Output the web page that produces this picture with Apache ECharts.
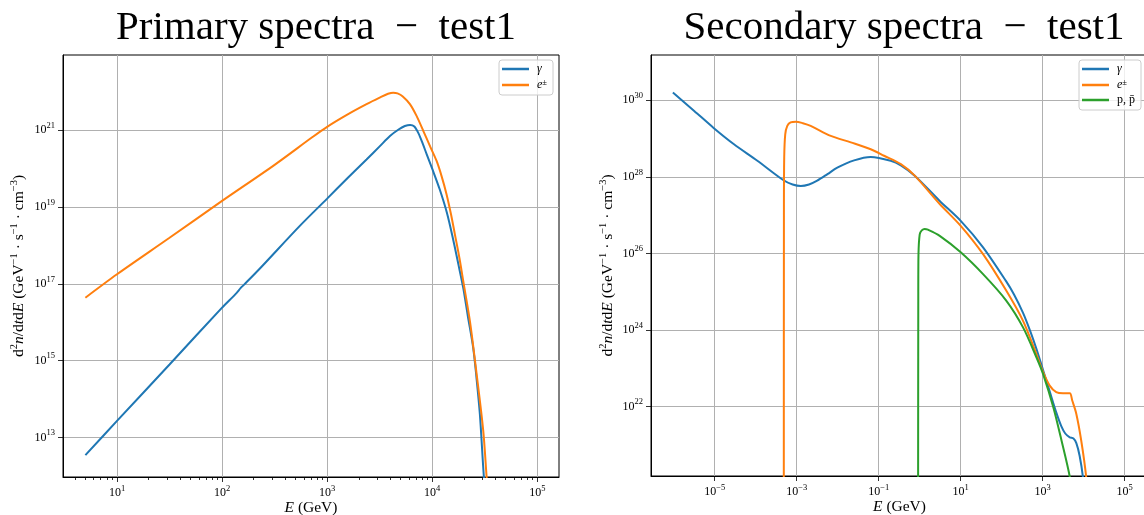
<!DOCTYPE html>
<html>
<head>
<meta charset="utf-8">
<script src="https://cdn.jsdelivr.net/npm/echarts@6/dist/echarts.min.js"></script>
<style>
html, body { margin: 0; padding: 0; background: #fff; }
#main { width: 1144px; height: 515px; }
</style>
</head>
<body>
<div id="main"></div>
<script>
// values, stored as log10 (E in GeV, d2n/dtdE)
// primary spectra
var priGammaLogE = [0.699, 1.0, 1.5, 2.0, 2.13, 2.18, 2.21, 2.36, 2.74, 3.0, 3.2, 3.375, 3.5, 3.598, 3.68, 3.74, 3.79, 3.83, 3.87, 3.91, 3.947, 4.0, 4.073, 4.14, 4.2, 4.25, 4.295, 4.34, 4.39, 4.42, 4.454, 4.492, 4.53];
var priGammaLogN = [12.54, 13.43, 14.9, 16.38, 16.74, 16.9, 16.98, 17.4, 18.51, 19.22, 19.77, 20.24, 20.58, 20.85, 21.02, 21.11, 21.14, 21.1, 20.92, 20.65, 20.38, 20.0, 19.45, 18.85, 18.15, 17.5, 16.9, 16.15, 15.34, 14.6, 13.6, 11.97, 10.8];
var priElecLogE = [0.699, 1.0, 1.5, 2.0, 2.5, 2.864, 3.0, 3.2, 3.375, 3.5, 3.58, 3.629, 3.67, 3.72, 3.788, 3.85, 3.916, 3.98, 4.042, 4.09, 4.137, 4.18, 4.216, 4.26, 4.295, 4.359, 4.423, 4.486, 4.518, 4.55];
var priElecLogN = [16.64, 17.25, 18.2, 19.16, 20.1, 20.83, 21.09, 21.42, 21.68, 21.85, 21.95, 21.98, 21.96, 21.88, 21.68, 21.38, 20.98, 20.58, 20.2, 19.8, 19.33, 18.8, 18.29, 17.66, 17.08, 16.03, 14.65, 13.17, 11.97, 10.8];

// secondary spectra
var secGammaLogE = [-6.02, -5.5, -5.02, -4.53, -3.96, -3.32, -3.1, -2.9, -2.7, -2.5, -2.25, -2.01, -1.6, -1.195, -0.707, -0.46, -0.122, 0.488, 1.0, 1.545, 2.11, 2.3, 2.52, 2.7, 2.846, 3.01, 3.17, 3.33, 3.45, 3.55, 3.66, 3.75, 3.82, 3.9, 3.98, 4.05];
var secGammaLogN = [30.2, 29.72, 29.27, 28.85, 28.42, 27.91, 27.8, 27.76, 27.8, 27.9, 28.07, 28.24, 28.43, 28.52, 28.42, 28.3, 28.03, 27.37, 26.85, 26.16, 25.27, 24.93, 24.45, 23.96, 23.51, 22.95, 22.4, 21.85, 21.5, 21.3, 21.2, 21.17, 21.05, 20.72, 20.17, 19.3];
var secElecLogE = [-3.315, -3.312, -3.305, -3.28, -3.23, -3.15, -3.02, -2.85, -2.66, -2.17, -1.68, -1.195, -0.87, -0.46, -0.122, 0.488, 1.0, 1.545, 2.11, 2.52, 2.846, 3.01, 3.17, 3.33, 3.495, 3.66, 3.72, 3.82, 3.94, 4.06, 4.12];
var secElecLogN = [19.0, 27.0, 28.5, 29.11, 29.33, 29.42, 29.44, 29.4, 29.33, 29.07, 28.9, 28.72, 28.55, 28.33, 28.03, 27.29, 26.72, 25.98, 25.03, 24.24, 23.37, 22.9, 22.55, 22.38, 22.35, 22.35, 22.16, 21.81, 21.11, 20.17, 19.3];
var secProtLogE = [-0.04, -0.035, -0.03, 0.0, 0.05, 0.12, 0.2, 0.488, 1.0, 1.545, 2.11, 2.52, 2.846, 3.01, 3.26, 3.46, 3.66, 3.72];
var secProtLogN = [19.0, 25.0, 25.98, 26.5, 26.6, 26.64, 26.62, 26.46, 26.03, 25.46, 24.77, 24.07, 23.29, 22.85, 21.98, 21.11, 20.17, 19.6];

// tick positions (log10)
var priXTicks = [1, 2, 3, 4, 5];
var priYTicks = [13, 15, 17, 19, 21];
var secXTicks = [-5, -3, -1, 1, 3, 5];
var secYTicks = [22, 24, 26, 28, 30];
var priXMinor = [];
for (var d = 0; d <= 5; d++) {
  for (var m = 2; m <= 9; m++) priXMinor.push(d + Math.log10(m));
}

var serif = 'Liberation Serif';
var colors = ['#1f77b4', '#ff7f0e', '#2ca02c'];

function pairs(xs, ys) {
  return xs.map(function (x, i) { return [x, ys[i]]; });
}
function pow10(v) {
  var n = Math.round(v);
  return '{b|10}{s|' + (n < 0 ? '\u2212' + (-n) : n) + '}';
}
var tickRich = {
  b: { fontFamily: serif, fontSize: 12, lineHeight: 18, color: '#000' },
  s: { fontFamily: serif, fontSize: 8.5, lineHeight: 9, verticalAlign: 'top', color: '#000' }
};
var nameRich = {
  r: { fontFamily: serif, fontSize: 15.5, lineHeight: 20, color: '#000' },
  i: { fontFamily: serif, fontSize: 15.5, lineHeight: 20, fontStyle: 'italic', color: '#000' },
  s: { fontFamily: serif, fontSize: 10.5, lineHeight: 11, verticalAlign: 'top', color: '#000' }
};
var yName = '{r|d}{s|2}{i|n}{r|/d}{i|t}{r|d}{i|E}{r| (GeV}{s|\u22121}{r| \u00b7 s}{s|\u22121}{r| \u00b7 cm}{s|\u22123}{r|)}';
var xName = '{i|E}{r| (GeV)}';

function xAxisOf(grid, min, max, ticks) {
  return {
    type: 'value', gridIndex: grid, min: min, max: max,
    name: xName, nameLocation: 'middle', nameGap: 21, nameMoveOverlap: false,
    nameTextStyle: { rich: nameRich },
    axisLine: { show: true, onZero: false, lineStyle: { color: '#000', width: 1 } },
    axisTick: { show: true, customValues: ticks, length: 5, lineStyle: { color: '#000', width: 0.8 } },
    axisLabel: { customValues: ticks, margin: 7, formatter: pow10, rich: tickRich },
    splitLine: { show: true, lineStyle: { color: '#b0b0b0', width: 1 } }
  };
}
function yAxisOf(grid, min, max, ticks, gap) {
  return {
    type: 'value', gridIndex: grid, min: min, max: max,
    name: yName, nameLocation: 'middle', nameGap: gap, nameMoveOverlap: false,
    nameTextStyle: { rich: nameRich },
    axisLine: { show: true, onZero: false, lineStyle: { color: '#000', width: 1 } },
    axisTick: { show: true, customValues: ticks, length: 5, lineStyle: { color: '#000', width: 0.8 } },
    axisLabel: { customValues: ticks, margin: 8, formatter: pow10, rich: tickRich },
    splitLine: { show: true, lineStyle: { color: '#b0b0b0', width: 1 } }
  };
}
function lineOf(name, data, color, axis) {
  return {
    name: name, type: 'line', data: data,
    xAxisIndex: axis, yAxisIndex: axis,
    showSymbol: false, smooth: 0.3, clip: true,
    lineStyle: { color: color, width: 2 },
    itemStyle: { color: color }
  };
}
var legendRich = {
  g: { width: 3 },
  r: { fontFamily: serif, fontSize: 12, lineHeight: 14, color: '#000' },
  i: { fontFamily: serif, fontSize: 12, lineHeight: 14, fontStyle: 'italic', color: '#000' },
  s: { fontFamily: serif, fontSize: 8.5, lineHeight: 8, verticalAlign: 'top', color: '#000' }
};
var legendText = { '\u03b3': '{g|}{i|\u03b3}', 'e\u00b1': '{g|}{i|e}{s|\u00b1}', 'p, p\u0304': '{g|}{r|p, p\u0304}' };
function legendOf(names, right) {
  return {
    data: names, orient: 'vertical', right: right, top: 60,
    icon: 'rect', itemWidth: 27, itemHeight: 2.5, itemGap: 3,
    padding: [3, 6, 4, 3],
    backgroundColor: 'rgba(255,255,255,0.8)',
    borderColor: '#cccccc', borderWidth: 1, borderRadius: 3,
    textStyle: { rich: legendRich },
    formatter: function (n) { return legendText[n]; }
  };
}
function gridOf(left, width, height, frame) {
  return {
    left: left, top: 55, width: width, height: height,
    outerBoundsMode: 'none', containLabel: false,
    show: frame, borderColor: '#000', borderWidth: 1, backgroundColor: 'transparent'
  };
}

var chart = echarts.init(document.getElementById('main'));
var option = {
  animation: false,
  title: [
    { text: 'Primary spectra  \u2212  test1', left: 311, top: 3, textAlign: 'center',
      textStyle: { fontFamily: serif, fontSize: 41, fontWeight: 'normal', color: '#000' } },
    { text: 'Secondary spectra  \u2212  test1', left: 899, top: 3, textAlign: 'center',
      textStyle: { fontFamily: serif, fontSize: 41, fontWeight: 'normal', color: '#000' } }
  ],
  legend: [
    legendOf(['\u03b3', 'e\u00b1'], 591),
    legendOf(['\u03b3', 'e\u00b1', 'p, p\u0304'], 3)
  ],
  grid: [
    gridOf(63, 496, 422, true),
    gridOf(651, 497, 421, true),
    gridOf(63, 496, 422, false)
  ],
  xAxis: [
    xAxisOf(0, 0.486, 5.207, priXTicks),
    xAxisOf(1, -6.554, 5.568, secXTicks),
    { type: 'value', gridIndex: 2, min: 0.486, max: 5.207,
      axisLine: { show: false },
      axisTick: { show: true, customValues: priXMinor, length: 3, lineStyle: { color: '#000', width: 0.8 } },
      axisLabel: { show: false }, splitLine: { show: false } }
  ],
  yAxis: [
    yAxisOf(0, 11.97, 22.96, priYTicks, 34),
    yAxisOf(1, 20.19, 31.18, secYTicks, 33),
    { type: 'value', gridIndex: 2, min: 11.97, max: 22.96, show: false }
  ],
  series: [
    lineOf('\u03b3', pairs(priGammaLogE, priGammaLogN), colors[0], 0),
    lineOf('e\u00b1', pairs(priElecLogE, priElecLogN), colors[1], 0),
    lineOf('\u03b3', pairs(secGammaLogE, secGammaLogN), colors[0], 1),
    lineOf('e\u00b1', pairs(secElecLogE, secElecLogN), colors[1], 1),
    lineOf('p, p\u0304', pairs(secProtLogE, secProtLogN), colors[2], 1)
  ]
};
chart.setOption(option);
</script>
</body>
</html>
